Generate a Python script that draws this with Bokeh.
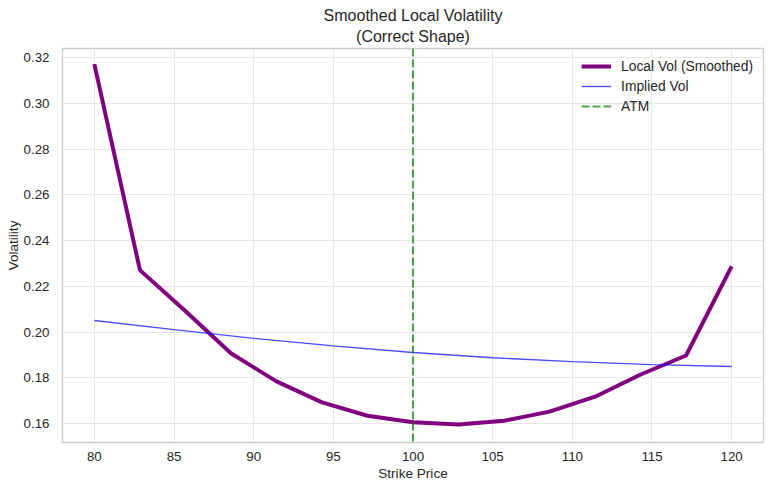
from bokeh.plotting import figure
from bokeh.models import Range1d, Span, FixedTicker, Title, Legend, LegendItem, CustomJSTickFormatter
from bokeh.embed import file_html
from bokeh.resources import INLINE

# ---- data ----
strikes = [80, 82.86, 85.71, 88.57, 91.43, 94.29, 97.14, 100, 102.86, 105.71, 108.57, 111.43, 114.29, 117.14, 120]
local_vol = [0.3171, 0.2271, 0.2092, 0.1908, 0.1785, 0.1693, 0.1635, 0.1606, 0.1597, 0.1613, 0.1653, 0.1718, 0.1815, 0.1898, 0.2287]
iv_strikes = [80, 85, 90, 95, 100, 105, 110, 115, 120]
implied_vol = [0.2051, 0.2011, 0.1973, 0.1940, 0.1911, 0.1888, 0.1871, 0.1858, 0.1850]
atm_strike = 100
x_ticks = [80, 85, 90, 95, 100, 105, 110, 115, 120]
y_ticks = [0.16, 0.18, 0.20, 0.22, 0.24, 0.26, 0.28, 0.30, 0.32]
title_lines = ["Smoothed Local Volatility", "(Correct Shape)"]

FONT = "Liberation Sans"
TXT = "#262626"
NAN = float("nan")

p = figure(width=773, height=490, output_backend="svg", toolbar_location=None,
           x_range=Range1d(78, 122), y_range=Range1d(0.1518, 0.3239),
           min_border_left=62, min_border_right=10, min_border_top=48, min_border_bottom=48)

p.title = None
# the first title added sits closest to the frame
p.add_layout(Title(text=title_lines[1], align="center", text_font=FONT, text_font_size="16px",
                   text_font_style="normal", text_color=TXT, standoff=8), "above")
p.add_layout(Title(text=title_lines[0], align="center", text_font=FONT, text_font_size="16px",
                   text_font_style="normal", text_color=TXT, standoff=-4), "above")

p.background_fill_color = "white"
p.border_fill_color = "white"
p.outline_line_color = "#cccccc"
p.outline_line_width = 1.3

for ax in (p.xaxis[0], p.yaxis[0]):
    ax.axis_line_color = None
    ax.major_tick_line_color = None
    ax.minor_tick_line_color = None
    ax.major_label_text_font = FONT
    ax.major_label_text_font_size = "13.3px"
    ax.major_label_text_color = TXT
    ax.axis_label_text_font = FONT
    ax.axis_label_text_font_size = "13.6px"
    ax.axis_label_text_font_style = "normal"
    ax.axis_label_text_color = TXT

p.xaxis.ticker = FixedTicker(ticks=x_ticks)
p.yaxis.ticker = FixedTicker(ticks=y_ticks)
p.yaxis.formatter = CustomJSTickFormatter(code="return tick.toFixed(2);")
p.xaxis.axis_label = "Strike Price"
p.yaxis.axis_label = "Volatility"
p.xaxis.major_label_standoff = 3
p.yaxis.major_label_standoff = 7
p.xaxis.axis_label_standoff = 2
p.yaxis.axis_label_standoff = 0

p.xgrid.ticker = FixedTicker(ticks=x_ticks)
p.ygrid.ticker = FixedTicker(ticks=y_ticks)
p.grid.grid_line_color = "#e6e6e6"
p.grid.grid_line_width = 1

r_local = p.line(strikes, local_vol, line_color="#800080", line_width=4)
r_iv = p.line(iv_strikes, implied_vol, line_color="blue", line_alpha=0.7, line_width=1.35)
atm = Span(location=atm_strike, dimension="height", line_color="green", line_alpha=0.7,
           line_width=2, line_dash="8 3")
p.add_layout(atm)
# legend proxy for the ATM span (no visible data)
r_atm = p.line([atm_strike, atm_strike], [NAN, NAN], line_color="green", line_alpha=0.7,
               line_width=2, line_dash="8 3")

legend = Legend(items=[LegendItem(label="Local Vol (Smoothed)", renderers=[r_local]),
                       LegendItem(label="Implied Vol", renderers=[r_iv]),
                       LegendItem(label="ATM", renderers=[r_atm])],
                location="top_right")
legend.border_line_color = None
legend.background_fill_alpha = 0
legend.label_text_font = FONT
legend.label_text_font_size = "13.8px"
legend.label_text_color = TXT
legend.glyph_width = 30
legend.glyph_height = 16
legend.label_height = 16
legend.spacing = 4
legend.label_standoff = 10
legend.margin = 10
legend.padding = 8
p.add_layout(legend)

open("out.html", "w").write(file_html(p, INLINE))
